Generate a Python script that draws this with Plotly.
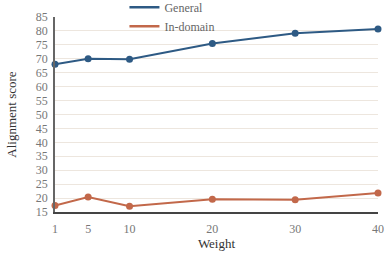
import plotly.graph_objects as go

weights = [1, 5, 10, 20, 30, 40]
general = [68.0, 70.0, 69.8, 75.5, 79.2, 80.7]
in_domain = [17.3, 20.4, 17.1, 19.6, 19.4, 21.8]
x_ticks = [1, 5, 10, 20, 30, 40]
y_ticks = list(range(15, 90, 5))
series_names = ["General", "In-domain"]

FONT = "Liberation Serif"
C_GEN = "#2e5a84"
C_IND = "#c2684a"

fig = go.Figure()
for vals, name, col in [(general, series_names[0], C_GEN), (in_domain, series_names[1], C_IND)]:
    fig.add_trace(go.Scatter(x=weights, y=vals, mode="lines+markers", name=name,
                             line=dict(color=col, width=2), marker=dict(size=7, color=col),
                             cliponaxis=False, showlegend=False))
    fig.add_trace(go.Scatter(x=[None], y=[None], mode="lines", name=name,
                             line=dict(color=col, width=2.5), showlegend=True))

fig.update_layout(
    width=389, height=256,
    margin=dict(l=55, r=11, t=17, b=44, autoexpand=False),
    paper_bgcolor="white", plot_bgcolor="white",
    font=dict(family=FONT, size=12, color="#777"),
    showlegend=True,
    legend=dict(x=0.215, xanchor="left", y=1.125, yanchor="top",
                bgcolor="rgba(0,0,0,0)", font=dict(size=12, color="#666"),
                itemwidth=30, tracegroupgap=0),
    xaxis=dict(range=[1, 40], tickvals=x_ticks, ticktext=[str(v) for v in x_ticks],
               showgrid=False, zeroline=False, showline=True, linecolor="#444", linewidth=1.5,
               ticks="", ticklabelstandoff=5, tickfont=dict(color="#777"),
               title=dict(text="Weight", font=dict(size=13, color="#333"), standoff=4)),
    yaxis=dict(range=[15, 85], tickvals=y_ticks, showgrid=True, gridcolor="#ede6de", gridwidth=1,
               zeroline=False, showline=True, linecolor="#666", linewidth=1.5, ticks="",
               ticklabelstandoff=3,
               title=dict(text="Alignment score", font=dict(size=13, color="#333"), standoff=16)),
)

fig.write_html("out.html")
